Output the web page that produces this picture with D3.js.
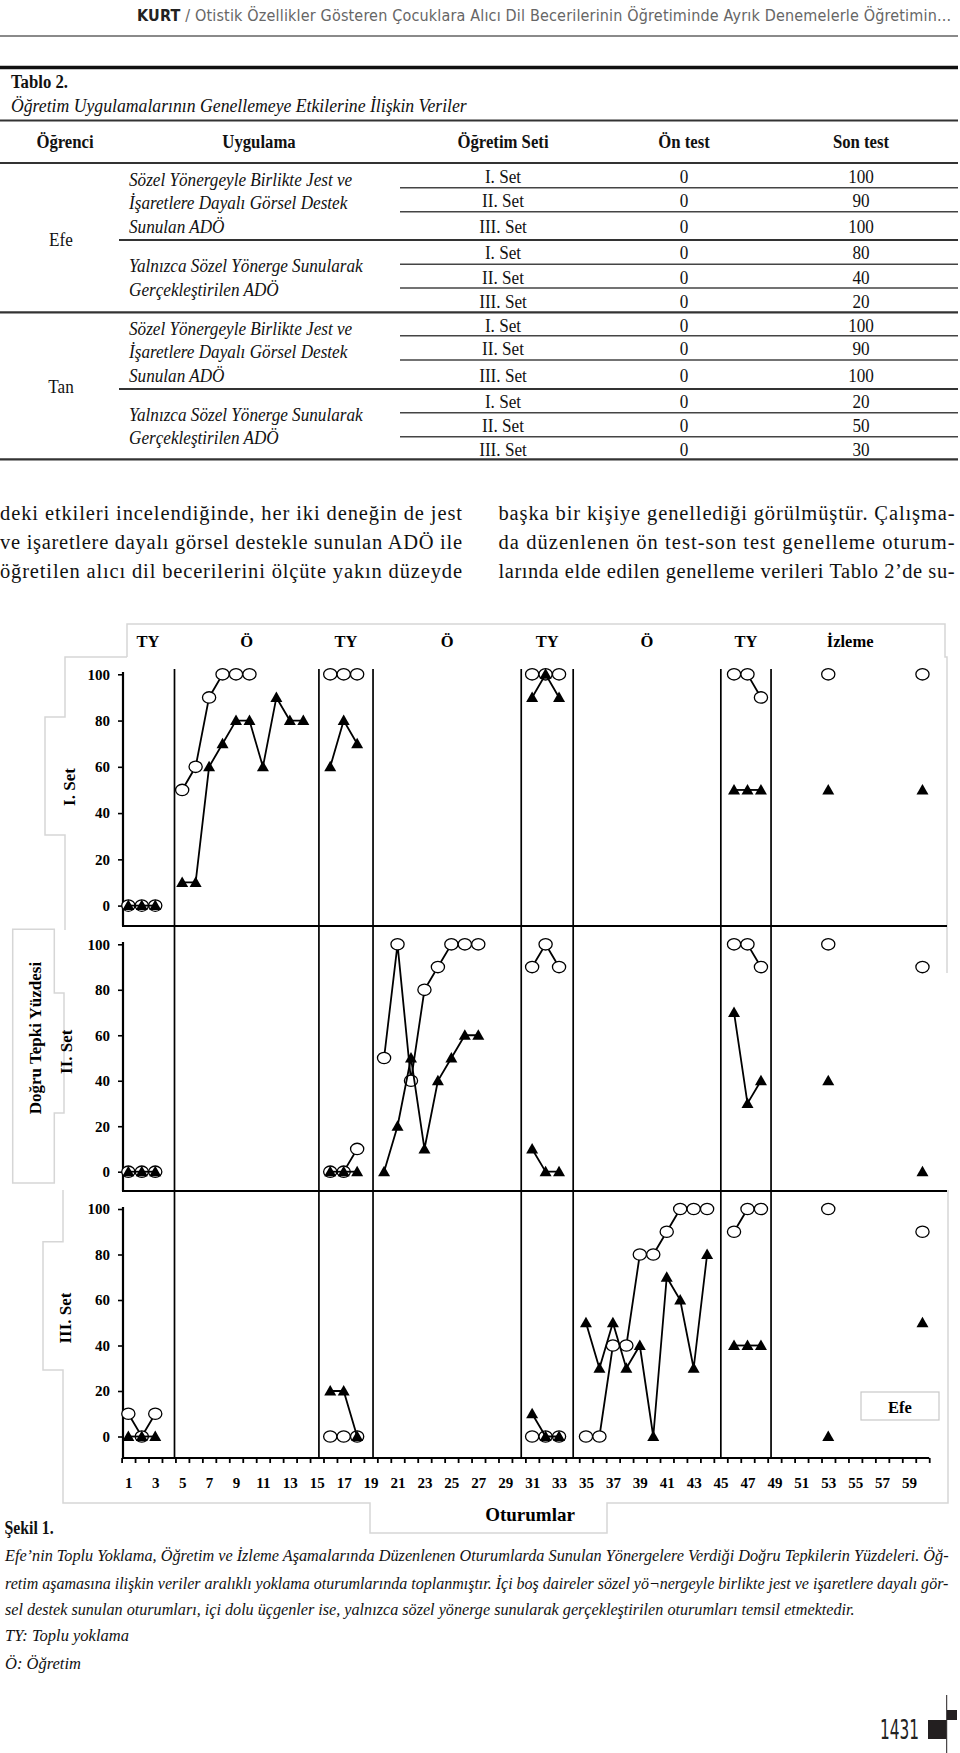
<!DOCTYPE html>
<html><head><meta charset="utf-8">
<script src="https://cdn.jsdelivr.net/npm/d3@7"></script>
<style>body{margin:0;background:#fff}svg{display:block}</style>
</head><body>
<svg id="page" width="960" height="1753"></svg>
<script>
// ---------------- DATA ----------------
const headerAuthor = "KURT";
const headerTitle = " / Otistik Özellikler Gösteren Çocuklara Alıcı Dil Becerilerinin Öğretiminde Ayrık Denemelerle Öğretimin...";
const tableNumber = "Tablo 2.";
const tableTitle = "Öğretim Uygulamalarının Genellemeye Etkilerine İlişkin Veriler";
const tableColumns = ["Öğrenci", "Uygulama", "Öğretim Seti", "Ön test", "Son test"];
const students = ["Efe", "Tan"];
const methodGesture = ["Sözel Yönergeyle Birlikte Jest ve", "İşaretlere Dayalı Görsel Destek", "Sunulan ADÖ"];
const methodVerbal = ["Yalnızca Sözel Yönerge Sunularak", "Gerçekleştirilen ADÖ"];
const setNames = ["I. Set", "II. Set", "III. Set"];
const preTest = [0, 0, 0, 0, 0, 0, 0, 0, 0, 0, 0, 0];
const postTest = [100, 90, 100, 80, 40, 20, 100, 90, 100, 20, 50, 30];

const bodyLeft = ["deki etkileri incelendiğinde, her iki deneğin de jest",
  "ve işaretlere dayalı görsel destekle sunulan ADÖ ile",
  "öğretilen alıcı dil becerilerini ölçüte yakın düzeyde"];
const bodyRight = ["başka bir kişiye genellediği görülmüştür. Çalışma-",
  "da düzenlenen ön test-son test genelleme oturum-",
  "larında elde edilen genelleme verileri Tablo 2’de su-"];

const phaseNames = ["TY", "Ö", "TY", "Ö", "TY", "Ö", "TY", "İzleme"];
const phaseChanges = [4.43, 15.16, 19.18, 30.19, 34.05, 45.02, 48.75];
const sessionTicks = [1,3,5,7,9,11,13,15,17,19,21,23,25,27,29,31,33,35,37,39,41,43,45,47,49,51,53,55,57,59];
const percentTicks = [0, 20, 40, 60, 80, 100];
const panelNames = ["I. Set", "II. Set", "III. Set"];
const yTitle = "Doğru Tepki Yüzdesi";
const xTitle = "Oturumlar";
const legendName = "Efe";

// Set I
const set1CircleSessions = [1,2,3, 5,6,7,8,9,10, 16,17,18, 31,32,33, 46,47,48, 53, 60];
const set1CircleValues   = [0,0,0, 50,60,90,100,100,100, 100,100,100, 100,100,100, 100,100,90, 100, 100];
const set1TriangleSessions = [1,2,3, 5,6,7,8,9,10,11,12,13,14, 16,17,18, 31,32,33, 46,47,48, 53, 60];
const set1TriangleValues   = [0,0,0, 10,10,60,70,80,80,60,90,80,80, 60,80,70, 90,100,90, 50,50,50, 50, 50];
// Set II
const set2CircleSessions = [1,2,3, 16,17,18, 20,21,22,23,24,25,26,27, 31,32,33, 46,47,48, 53, 60];
const set2CircleValues   = [0,0,0, 0,0,10, 50,100,40,80,90,100,100,100, 90,100,90, 100,100,90, 100, 90];
const set2TriangleSessions = [1,2,3, 16,17,18, 20,21,22,23,24,25,26,27, 31,32,33, 46,47,48, 53, 60];
const set2TriangleValues   = [0,0,0, 0,0,0, 0,20,50,10,40,50,60,60, 10,0,0, 70,30,40, 40, 0];
// Set III
const set3CircleSessions = [1,2,3, 16,17,18, 31,32,33, 35,36,37,38,39,40,41,42,43,44, 46,47,48, 53, 60];
const set3CircleValues   = [10,0,10, 0,0,0, 0,0,0, 0,0,40,40,80,80,90,100,100,100, 90,100,100, 100, 90];
const set3TriangleSessions = [1,2,3, 16,17,18, 31,32,33, 35,36,37,38,39,40,41,42,43,44, 46,47,48, 53, 60];
const set3TriangleValues   = [0,0,0, 20,20,0, 10,0,0, 50,30,50,30,40,0,70,60,30,80, 40,40,40, 0, 50];

const captionTitle = "Şekil 1.";
const captionLines = [
  "Efe’nin Toplu Yoklama, Öğretim ve İzleme Aşamalarında Düzenlenen Oturumlarda Sunulan Yönergelere Verdiği Doğru Tepkilerin Yüzdeleri. Öğ-",
  "retim aşamasına ilişkin veriler aralıklı yoklama oturumlarında toplanmıştır. İçi boş daireler sözel yö¬nergeyle birlikte jest ve işaretlere dayalı gör-",
  "sel destek sunulan oturumları, içi dolu üçgenler ise, yalnızca sözel yönerge sunularak gerçekleştirilen oturumları temsil etmektedir.",
  "TY: Toplu yoklama",
  "Ö: Öğretim"];
const pageNumber = "1431";

// ---------------- DRAWING ----------------
const SERIF = "'Liberation Serif','Times New Roman',serif";
const NARROW = "'Liberation Sans Narrow','DejaVu Sans Condensed','Liberation Sans',sans-serif";
const svg = d3.select("#page");

function txt(parent, s, x, y, o = {}) {
  const t = parent.append("text").attr("x", x).attr("y", y).text(s)
    .attr("font-family", o.family || SERIF).attr("font-size", o.size || 17)
    .attr("fill", o.fill || "#111");
  if (o.weight) t.attr("font-weight", o.weight);
  if (o.style) t.attr("font-style", o.style);
  if (o.anchor) t.attr("text-anchor", o.anchor);
  if (o.len) t.attr("textLength", o.len).attr("lengthAdjust", o.adjust || "spacing");
  return t;
}
// condensed text: horizontally compressed serif (imitates the condensed table face)
function ctxt(s, x, y, o = {}) {
  const g = svg.append("g").attr("transform", `translate(${x},${y}) scale(${o.sx || 0.88},1)`);
  return txt(g, s, 0, 0, o);
}
// text scaled horizontally so that it spans exactly `width` pixels
function fitText(s, x, y, width, o = {}) {
  const g = svg.append("g");
  const t = txt(g, s, 0, 0, o);
  const w = t.node().getComputedTextLength();
  const sx = Math.min(width / w, o.maxScale || 10);
  g.attr("transform", `translate(${x},${y}) scale(${sx},1)`);
  return t;
}
function hline(y, x1, x2, w, c) {
  svg.append("line").attr("x1", x1).attr("x2", x2).attr("y1", y).attr("y2", y)
    .attr("stroke", c || "#222").attr("stroke-width", w || 1.5);
}

// Running header
const ht = svg.append("text").attr("x", 137).attr("y", 21).attr("font-family", NARROW)
  .attr("font-size", 16).attr("fill", "#666").attr("textLength", 814).attr("lengthAdjust", "spacing");
ht.append("tspan").attr("font-weight", "bold").attr("fill", "#222").text(headerAuthor);
ht.append("tspan").text(headerTitle);
hline(36, 0, 958, 2, "#8a8a8a");

// Table
hline(67.5, 0, 958, 3.5, "#111");
ctxt(tableNumber, 11, 88, {weight: "bold", size: 19});
fitText(tableTitle, 11, 112, 456, {style: "italic", size: 18.5});
hline(120.5, 0, 958, 2.2, "#333");
const colX = [65, 259, 503, 684, 861];
tableColumns.forEach((c, i) => ctxt(c, colX[i], 148, {weight: "bold", size: 19, anchor: "middle"}));
hline(163, 0, 958, 2.2, "#333");

const rowCenters = [176.7, 201, 227.3, 253, 277.5, 301.5, 325.5, 349.3, 375.5, 401.5, 425.5, 450];
const rowLines = [187.7, 211.7, 240, 264.3, 288, 312.3, 335.7, 360, 389, 412.7, 436.7, 459.3];
rowLines.forEach((y, k) => {
  if (k === 5 || k === 11) hline(y, 0, 958, 2.2, "#333");
  else if (k === 2 || k === 8) hline(y, 119, 958, 1.8, "#333");
  else hline(y, 400, 958, 1.6, "#444");
});
rowCenters.forEach((cy, k) => {
  ctxt(setNames[k % 3], colX[2], cy + 6, {size: 19.5, anchor: "middle"});
  ctxt(preTest[k], colX[3], cy + 6, {size: 19.5, anchor: "middle"});
  ctxt(postTest[k], colX[4], cy + 6, {size: 19.5, anchor: "middle"});
});
const methodBlocks = [[methodGesture, [180, 203.3, 227.3]], [methodVerbal, [266, 290]],
                      [methodGesture, [329, 352, 376]], [methodVerbal, [415, 438.3]]];
methodBlocks.forEach(([lines, ys]) => lines.forEach((l, j) =>
  ctxt(l, 129, ys[j] + 6, {style: "italic", size: 19.5})));
ctxt(students[0], 61, 245.5, {size: 19.5, anchor: "middle"});
ctxt(students[1], 61, 393, {size: 19.5, anchor: "middle"});

// Body text
const bodyY = [520, 549, 578];
bodyLeft.forEach((l, i) => txt(svg, l, 0, bodyY[i], {size: 20.5, len: 462}));
bodyRight.forEach((l, i) => txt(svg, l, 498.5, bodyY[i], {size: 20.5, len: 456}));

// ---------------- CHART ----------------
const chart = svg.append("g");
// faint frame of the pasted figure
const frame = [
  "M127,657V624H945V657H947V973",
  "M127,657H65V717H45V835H65V930",
  "M12.7,929.3H54.3V993H64V1113H54.3V1183H12.7Z",
  "M63,1190V1241.7H43V1370H63V1503H370V1533H607V1503H948V1190"
];
frame.forEach(d => chart.append("path").attr("d", d).attr("fill", "none")
  .attr("stroke", "#d6d6d6").attr("stroke-width", 1.5));

const x = d3.scaleLinear().domain([0.5, 60.5]).range([121.6, 929.2]);
const axisX = 123;
const panels = [
  {bottom: 926, y0: 905.6, y100: 674.3, top: 672, right: 947},
  {bottom: 1191, y0: 1171.7, y100: 944.3, top: 942, right: 947},
  {bottom: 1458, y0: 1436.5, y100: 1209, top: 1207, right: 929.2}];
const circleSeries = [[set1CircleSessions, set1CircleValues], [set2CircleSessions, set2CircleValues], [set3CircleSessions, set3CircleValues]];
const triangleSeries = [[set1TriangleSessions, set1TriangleValues], [set2TriangleSessions, set2TriangleValues], [set3TriangleSessions, set3TriangleValues]];

// phase labels
const bounds = [x.domain()[0], ...phaseChanges, x.domain()[1]];
phaseNames.forEach((n, i) => {
  txt(chart, n, x((bounds[i] + bounds[i + 1]) / 2), 647, {weight: "bold", size: 16.5, anchor: "middle", fill: "#000"});
});
// phase change lines
phaseChanges.forEach(p => chart.append("line").attr("x1", x(p)).attr("x2", x(p))
  .attr("y1", 669).attr("y2", panels[2].bottom).attr("stroke", "#000").attr("stroke-width", 1.7));

function segments(s, v) {
  const segs = []; let cur = [];
  s.forEach((d, k) => {
    if (k > 0 && d - s[k - 1] !== 1) { segs.push(cur); cur = []; }
    cur.push([d, v[k]]);
  });
  segs.push(cur);
  return segs;
}

panels.forEach((p, i) => {
  const y = d3.scaleLinear().domain([0, 100]).range([p.y0, p.y100]);
  const g = chart.append("g");
  g.append("line").attr("x1", axisX).attr("x2", axisX).attr("y1", p.top).attr("y2", p.bottom)
    .attr("stroke", "#000").attr("stroke-width", 2.2);
  const ga = g.append("g").attr("transform", `translate(${axisX},0)`)
    .call(d3.axisLeft(y).tickValues(percentTicks).tickSize(5).tickPadding(8));
  ga.select(".domain").remove();
  ga.selectAll("line").attr("stroke", "#000").attr("stroke-width", 1.6);
  ga.selectAll("text").attr("font-family", SERIF).attr("font-size", 15).attr("font-weight", "bold").attr("fill", "#000");
  g.append("line").attr("x1", axisX - 1).attr("x2", p.right).attr("y1", p.bottom).attr("y2", p.bottom)
    .attr("stroke", "#000").attr("stroke-width", 2.2);

  const line = d3.line().x(d => x(d[0])).y(d => y(d[1]));
  // circles series
  const [cs, cv] = circleSeries[i];
  segments(cs, cv).forEach(seg => g.append("path").attr("d", line(seg)).attr("fill", "none")
    .attr("stroke", "#000").attr("stroke-width", 1.8));
  cs.forEach((s, k) => g.append("ellipse").attr("cx", x(s)).attr("cy", y(cv[k]))
    .attr("rx", 6.6).attr("ry", 5.7).attr("fill", "#fff").attr("stroke", "#000").attr("stroke-width", 1.3));
  // triangle series
  const [ts, tv] = triangleSeries[i];
  segments(ts, tv).forEach(seg => g.append("path").attr("d", line(seg)).attr("fill", "none")
    .attr("stroke", "#000").attr("stroke-width", 1.8));
  ts.forEach((s, k) => g.append("path").attr("d", "M0,-6L6,4.5L-6,4.5Z")
    .attr("transform", `translate(${x(s)},${y(tv[k])})`).attr("fill", "#000"));
});

// x axis of bottom panel
const xb = panels[2].bottom;
const minor = chart.append("g").attr("transform", `translate(0,${xb})`)
  .call(d3.axisBottom(x).tickValues(d3.range(0.5, 61, 1)).tickSize(5).tickFormat(""));
minor.select(".domain").remove();
minor.selectAll("line").attr("stroke", "#000").attr("stroke-width", 1.8);
const labs = chart.append("g").attr("transform", `translate(0,${xb})`)
  .call(d3.axisBottom(x).tickValues(sessionTicks).tickSize(0).tickPadding(19));
labs.select(".domain").remove();
labs.selectAll("text").attr("font-family", SERIF).attr("font-size", 15).attr("font-weight", "bold").attr("fill", "#000");

// axis titles
function vtext(s, cx, cy, size) {
  chart.append("text").attr("transform", `translate(${cx},${cy}) rotate(-90)`)
    .attr("text-anchor", "middle").attr("dominant-baseline", "central")
    .attr("font-family", SERIF).attr("font-size", size).attr("font-weight", "bold").attr("fill", "#000").text(s);
}
vtext(panelNames[0], 69, 787, 17);
vtext(panelNames[1], 66.7, 1051.7, 17);
vtext(panelNames[2], 65, 1318, 17);
vtext(yTitle, 35, 1038, 17);
txt(chart, xTitle, 530, 1521, {weight: "bold", size: 19, anchor: "middle", fill: "#000"});
chart.append("rect").attr("x", 861).attr("y", 1392).attr("width", 78).attr("height", 28)
  .attr("fill", "#fff").attr("stroke", "#c8c8c8").attr("stroke-width", 1.2);
txt(chart, legendName, 900, 1413, {weight: "bold", size: 16.5, anchor: "middle", fill: "#000"});

// Caption
ctxt(captionTitle, 4.5, 1534, {weight: "bold", size: 18});
const capY = [1561, 1589, 1615, 1641, 1669];
const capLen = [944, 944, 850, null, null];
captionLines.forEach((l, i) => {
  if (capLen[i]) fitText(l, 5, capY[i], capLen[i], {style: "italic", size: 16.5});
  else txt(svg, l, 5, capY[i], {style: "italic", size: 16.5});
});

// Page number mark
txt(svg, pageNumber, 880, 1739, {family: NARROW, size: 27, fill: "#222", len: 39, adjust: "spacingAndGlyphs"});
svg.append("rect").attr("x", 928).attr("y", 1720).attr("width", 18.5).attr("height", 19).attr("fill", "#231f20");
svg.append("rect").attr("x", 947).attr("y", 1710).attr("width", 10).attr("height", 10).attr("fill", "#231f20");
svg.append("line").attr("x1", 946.7).attr("x2", 946.7).attr("y1", 1695).attr("y2", 1753).attr("stroke", "#231f20").attr("stroke-width", 1);
</script>
</body></html>
